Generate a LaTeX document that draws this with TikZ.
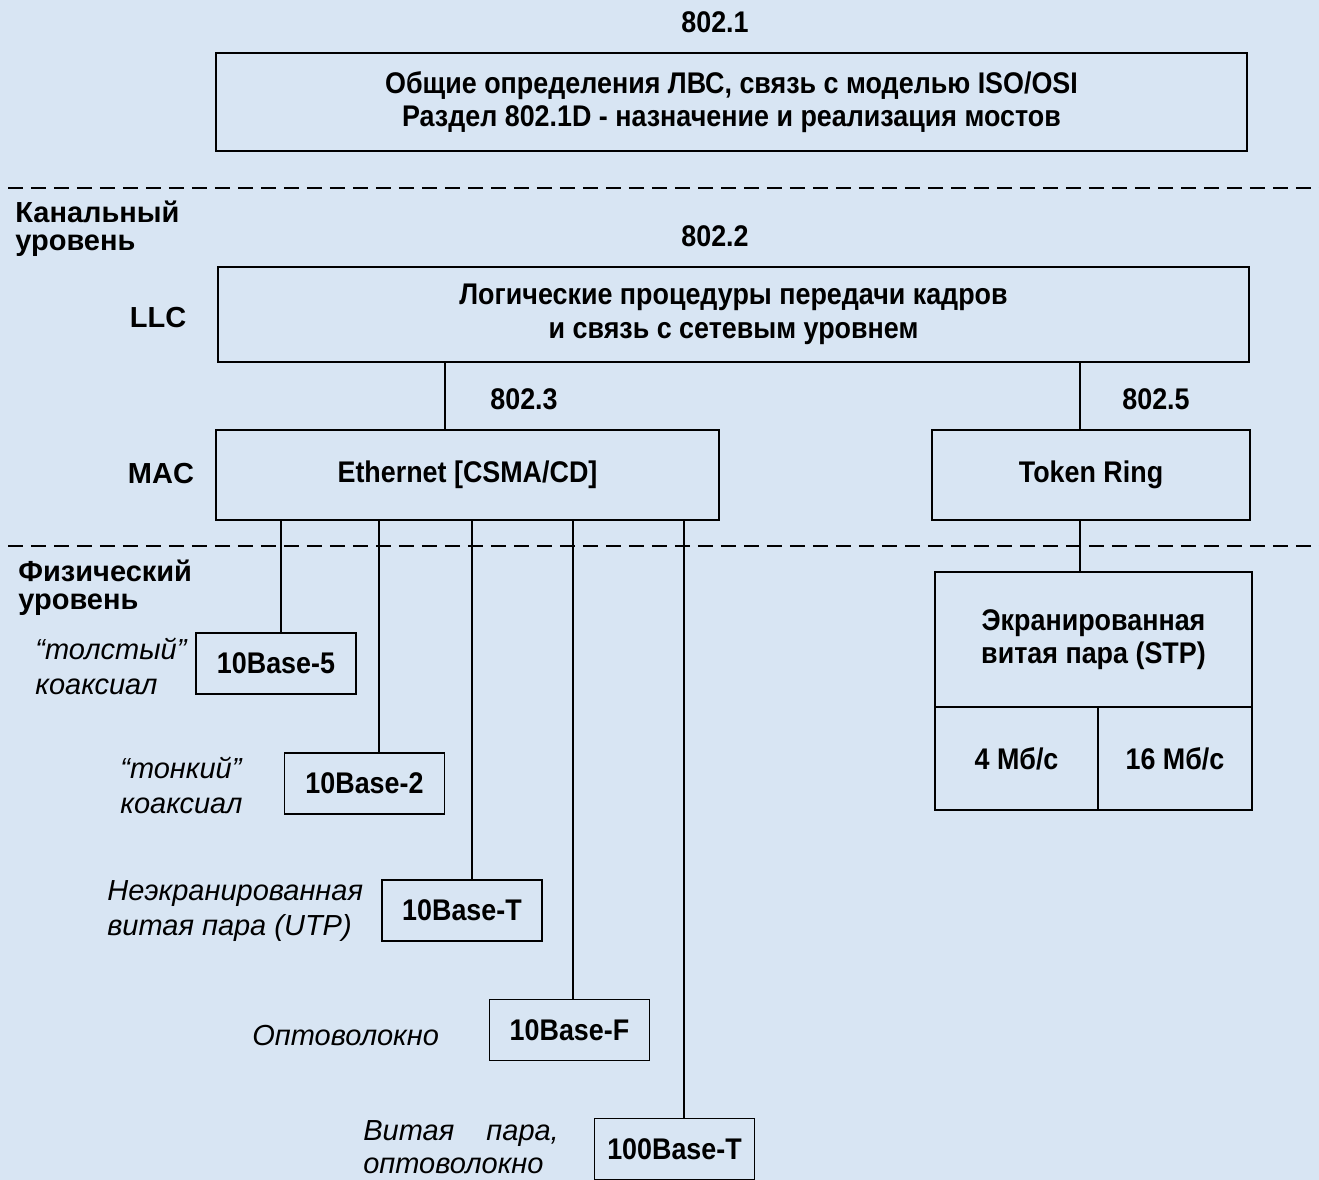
\documentclass[tikz,border=0pt]{standalone}
\usepackage{fontspec}
\setmainfont{Liberation Sans}
\newfontfamily\condfont[FakeStretch=0.9]{Liberation Sans}
\usetikzlibrary{calc}
\definecolor{bgblue}{RGB}{216,229,243}

\begin{document}
\begin{tikzpicture}[x=0.02cm,y=-0.02cm,
        font=\condfont\fontsize{17}{19}\selectfont\bfseries,
        box/.style={draw, line width=1.1pt, inner sep=0pt, outer sep=0pt, align=center},
        smallbox/.style={box, minimum width=3.2cm, minimum height=1.22cm},
        note/.style={font=\fontsize{16.5}{20}\selectfont\mdseries\itshape, align=left, inner sep=0pt},
        side/.style={font=\fontsize{16.5}{19}\selectfont\bfseries, inner sep=0pt},
        tag/.style={inner sep=0pt},
        layer/.style={dash pattern=on 0.3cm off 0.16cm, line width=1.1pt},
        link/.style={line width=0.7pt}]
        % Background
        \fill[bgblue] (0,0) rectangle (1319,1180);
        \useasboundingbox (0,0) rectangle (1319,1180);

        % 802.1
        \node[tag] (n1) at (715,22) {802.1};
        \node[box, minimum width=20.62cm, minimum height=1.96cm] (gen) at (731.5,102)
            {Общие определения ЛВС, связь с моделью ISO/OSI\\Раздел 802.1D - назначение и реализация мостов};

        % Layer borders
        \draw[layer] (8,188) -- (1319,188);
        \draw[layer] (8,546) -- (1319,546);

        % Data link layer
        \node[side, anchor=west] (dl) at (15,212) {Канальный};
        \node[side, anchor=west] (dl2) at (15,246) {уровень};
        \node[tag] (n2) at (715,236) {802.2};
        \node[side] (llclabel) at (158,318) {LLC};
        \node[box, minimum width=20.62cm, minimum height=1.9cm] (llc) at (733.5,314.5)
            {Логические процедуры передачи кадров\\и связь с сетевым уровнем};

        \node[tag] (n3) at (524,399) {802.3};
        \node[tag] (n5) at (1156,399) {802.5};
        \node[side] (maclabel) at (161,474) {MAC};
        \node[box, minimum width=10.06cm, minimum height=1.8cm] (eth) at (467.5,475) {Ethernet [CSMA/CD]};
        \node[box, minimum width=6.36cm, minimum height=1.8cm] (tr) at (1091,475) {Token Ring};

        % LLC to MAC
        \draw[link] ([xshift=-0.45cm]eth.north) -- ([xshift=-0.45cm]eth.north |- llc.south);
        \draw[link] ([xshift=-0.22cm]tr.north) -- ([xshift=-0.22cm]tr.north |- llc.south);

        % Physical layer
        \node[side, anchor=west] (ph) at (18,571) {Физический};
        \node[side, anchor=west] (ph2) at (18,605) {уровень};

        \node[smallbox] (b5) at (276,663.5) {10Base-5};
        \node[smallbox] (b2) at (364.5,783.5) {10Base-2};
        \node[smallbox] (bt) at (462,910.5) {10Base-T};
        \node[smallbox] (bf) at (569.5,1030) {10Base-F};
        \node[smallbox] (b100) at (674.5,1149) {100Base-T};

        \node[note, anchor=west] (c5) at (35,666) {“толстый”\\коаксиал};
        \node[note, anchor=west] (c2) at (120,785) {“тонкий”\\коаксиал};
        \node[note, anchor=west] (ct) at (107,911) {Неэкранированная\\витая пара (UTP)};
        \node[note, anchor=west] (cf) at (252,1036) {Оптоволокно};
        \node[note, anchor=west, font=\fontsize{16.5}{18.5}\selectfont\mdseries\itshape] (c100) at (363,1147)
            {Витая \ \ \ пара,\\оптоволокно};

        % Ethernet to media
        \draw[link] ([xshift=0.1cm]b5.north) -- ([xshift=0.1cm]b5.north |- eth.south);
        \draw[link] ([xshift=0.29cm]b2.north) -- ([xshift=0.29cm]b2.north |- eth.south);
        \draw[link] ([xshift=0.2cm]bt.north) -- ([xshift=0.2cm]bt.north |- eth.south);
        \draw[link] ([xshift=0.07cm]bf.north) -- ([xshift=0.07cm]bf.north |- eth.south);
        \draw[link] ([xshift=0.19cm]b100.north) -- ([xshift=0.19cm]b100.north |- eth.south);

        % Token Ring media
        \node[box, minimum width=6.34cm, minimum height=2.7cm] (stp) at (1093.5,639.5)
            {Экранированная\\витая пара (STP)};
        \node[box, minimum width=3.26cm, minimum height=2.06cm, anchor=north west] (mb4) at (stp.south west) {4 Мб/с};
        \node[box, minimum width=3.08cm, minimum height=2.06cm, anchor=north east] (mb16) at (stp.south east) {16 Мб/с};
        \draw[link] ([xshift=-0.22cm]tr.south) -- ([xshift=-0.22cm]tr.south |- stp.north);
    \end{tikzpicture}
\end{document}
